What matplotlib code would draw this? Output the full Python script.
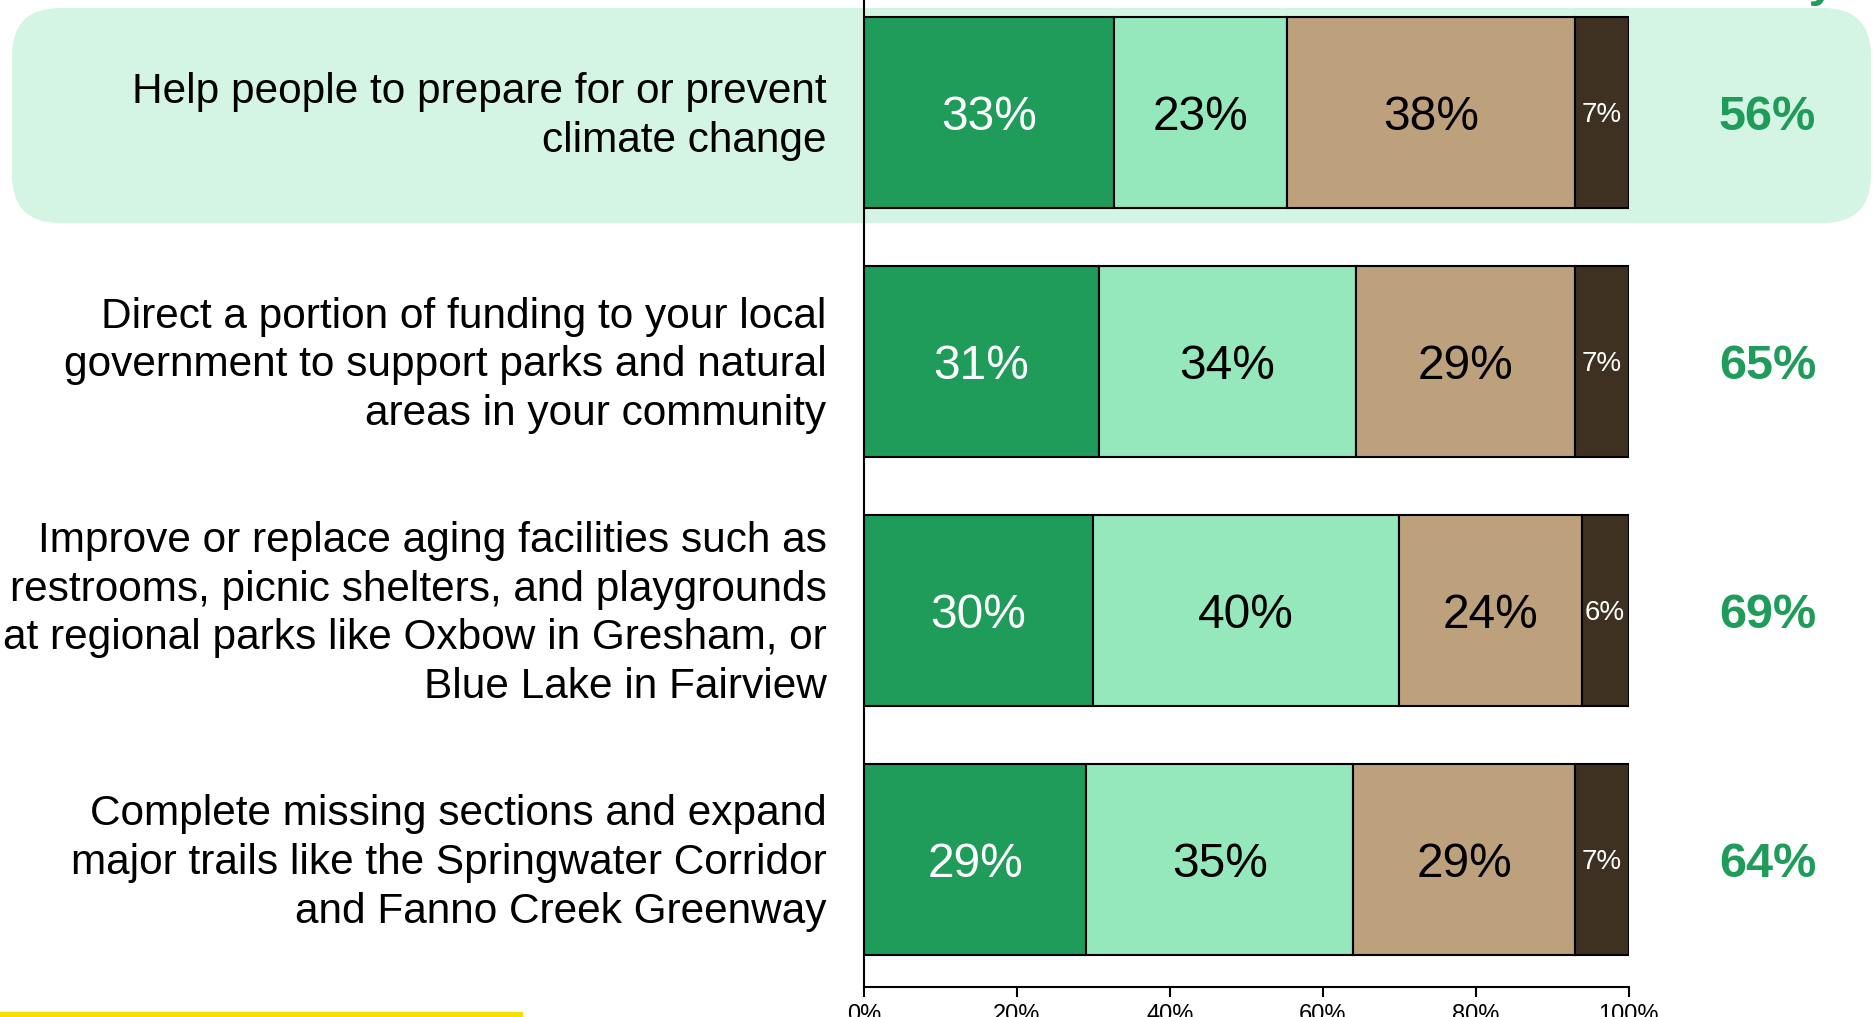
import matplotlib.pyplot as plt
import matplotlib.transforms as mtransforms
import numpy as np
from matplotlib.patches import FancyBboxPatch

plt.rcParams['font.family'] = ['Liberation Sans', 'DejaVu Sans']

# data (share of respondents, %)
items = ["Help people to prepare for or prevent\nclimate change",
         "Direct a portion of funding to your local\ngovernment to support parks and natural\nareas in your community",
         "Improve or replace aging facilities such as\nrestrooms, picnic shelters, and playgrounds\nat regional parks like Oxbow in Gresham, or\nBlue Lake in Fairview",
         "Complete missing sections and expand\nmajor trails like the Springwater Corridor\nand Fanno Creek Greenway"]
very_likely = [32.7, 30.7, 30.0, 29.1]
somewhat_likely = [22.7, 33.6, 40.0, 34.9]
not_too_likely = [37.6, 28.7, 23.9, 29.0]
not_at_all = [7.0, 7.0, 6.1, 7.0]
total_likely = [56, 65, 69, 64]

series = [very_likely, somewhat_likely, not_too_likely, not_at_all]
colors = ['#1f9c5a', '#94e8bc', '#bda07c', '#3e3121']
txt_colors = ['white', 'black', 'black', 'white']
txt_sizes = [34.5, 34.5, 34.5, 20]

fig = plt.figure(figsize=(18.74, 10.17), dpi=100)

# highlight box behind the first row
box = FancyBboxPatch((0.12, 7.94), 18.59, 2.15,
                     boxstyle="round,pad=0,rounding_size=0.48",
                     transform=fig.dpi_scale_trans, facecolor='#d4f5e4',
                     edgecolor='none', zorder=0)
fig.patches.append(box)

ax = fig.add_axes([0.461, 0.0295, 0.408, 0.9705])
ax.set_zorder(2)
ax.patch.set_alpha(0)

y = np.arange(len(items))
left = np.zeros(len(items))
for vals, c, tc, fs in zip(series, colors, txt_colors, txt_sizes):
    bars = ax.barh(y, vals, left=left, height=0.767, color=c,
                   edgecolor='black', linewidth=1.5, zorder=2)
    for b, v in zip(bars, vals):
        ax.text(b.get_x() + b.get_width() / 2, b.get_y() + b.get_height() / 2,
                f"{v:.0f}%", ha='center', va='center_baseline', color=tc,
                fontsize=fs, zorder=3)
    left += np.array(vals)

for yi, t in zip(y, total_likely):
    ax.text(118.2, yi, f"{t}%", ha='center', va='center_baseline',
            color='#1f9c5a', fontsize=35, fontweight='bold', clip_on=False)

# header sits mostly above the visible area
ax.text(118.2, -0.452 - 0.016, "Likely", ha='center', va='baseline',
        color='#1f9c5a', fontsize=35, fontweight='bold', clip_on=False)

ax.set_xlim(0, 100)
ax.set_ylim(3.514, -0.452)
ax.set_yticks(y)
ax.set_yticklabels(items, fontsize=30.5, linespacing=1.28, ha='right')
ax.tick_params(axis='y', length=0, pad=27)
shift = mtransforms.ScaledTranslation(0, 0.05, fig.dpi_scale_trans)
for lab in ax.get_yticklabels():
    lab.set_transform(lab.get_transform() + shift)
ax.set_xticks(np.arange(0, 101, 20))
ax.set_xticklabels([f"{v}%" for v in range(0, 101, 20)], fontsize=17)
ax.tick_params(axis='x', length=7, width=1.5, direction='out', pad=5)
ax.spines['top'].set_visible(False)
ax.spines['right'].set_visible(False)
ax.spines['left'].set_linewidth(1.5)
ax.spines['bottom'].set_linewidth(1.5)

# yellow accent line at the bottom
fig.add_artist(plt.Line2D([0, 520 / 1874], [2.5 / 1017, 2.5 / 1017],
                          color='#f7df00', linewidth=4.5))

fig.savefig('out.png', dpi=100)
